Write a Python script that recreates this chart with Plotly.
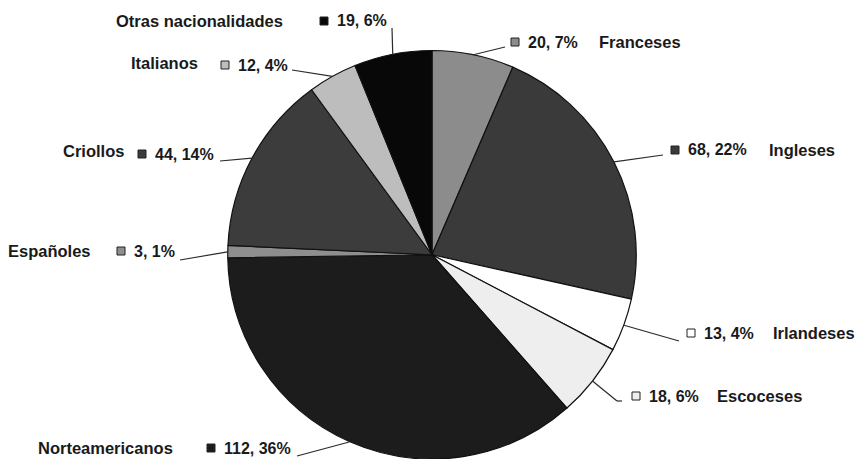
import math
import plotly.graph_objects as go

# ---- data ----
names = ["Franceses", "Ingleses", "Irlandeses", "Escoceses", "Norteamericanos",
         "Españoles", "Criollos", "Italianos", "Otras nacionalidades"]
values = [20, 68, 13, 18, 112, 3, 44, 12, 19]
percents = [7, 22, 4, 6, 36, 1, 14, 4, 6]
colors = ["#8c8c8c", "#3a3a3a", "#ffffff", "#eeeeee", "#1c1c1c",
          "#8e8e8e", "#3c3c3c", "#bdbdbd", "#080808"]

# ---- label layout (pixels) ----
W, H = 857, 459
CX, CY, R = 432, 255, 204.5
sq_x = [511, 671, 687, 632, 207, 117, 138, 221, 320]
lab_y = [42, 150, 333, 396, 448, 251, 154, 65, 21]
name_x = [597, 767, 771, 715, 175, 93, 126, 200, 285]
name_dy = [0, 0, 0, 0, 0, 0, -3, -2, 0]
name_side = ["l", "l", "l", "l", "r", "r", "r", "r", "r"]
leader_end = [(505, 47), (663, 155), (679, 341), (622, 401), (297, 456),
              (180, 260), (220, 161), (292, 70), (392, 28)]
leader_elbow = [None, None, None, (617, 401), None, None, None, None, None]

def px(x):
    return x / W

def py(y):
    return 1 - y / H

fig = go.Figure()
fig.add_trace(go.Pie(
    labels=names, values=values, sort=False, direction="clockwise", rotation=0,
    marker=dict(colors=colors, line=dict(color="#111111", width=1.2)),
    textinfo="none", hoverinfo="label+value+percent", showlegend=False,
    domain=dict(x=[(CX - R) / W, (CX + R) / W], y=[0, (H - CY + R) / H]),
))

vfont = dict(family="Liberation Sans, Arial, sans-serif", size=16, color="#1a1a1a")
nfont = dict(family="Liberation Sans, Arial, sans-serif", size=16.5, color="#1a1a1a")
total = sum(values)
shapes = []
annotations = []
cum = 0
for i, v in enumerate(values):
    mid = (cum + v / 2) / total * 2 * math.pi
    cum += v
    ex = CX + R * math.sin(mid)
    ey = CY - R * math.cos(mid)
    lx, ly = leader_end[i]
    if leader_elbow[i] is not None:
        bx, by = leader_elbow[i]
        shapes.append(dict(type="line", xref="paper", yref="paper",
                           x0=px(ex), y0=py(ey), x1=px(bx), y1=py(by),
                           line=dict(color="#2a2a2a", width=1.2)))
        ex, ey = bx, by
    shapes.append(dict(type="line", xref="paper", yref="paper",
                       x0=px(ex), y0=py(ey), x1=px(lx), y1=py(ly),
                       line=dict(color="#2a2a2a", width=1.2)))
    # legend square
    s = 8
    shapes.append(dict(type="rect", xref="paper", yref="paper",
                       x0=px(sq_x[i]), x1=px(sq_x[i] + s),
                       y0=py(lab_y[i] - s / 2), y1=py(lab_y[i] + s / 2),
                       fillcolor=colors[i], line=dict(color="#222222", width=1)))
    annotations.append(dict(xref="paper", yref="paper", x=px(sq_x[i] + 15), y=py(lab_y[i]),
                            xanchor="left", yanchor="middle", showarrow=False,
                            text=f"<b>{v}, {percents[i]}%</b>", font=vfont))
    annotations.append(dict(xref="paper", yref="paper", x=px(name_x[i]),
                            y=py(lab_y[i] + name_dy[i]),
                            xanchor="left" if name_side[i] == "l" else "right",
                            yanchor="middle", showarrow=False,
                            text=f"<b>{names[i]}</b>", font=nfont))

fig.update_layout(
    width=W, height=H, margin=dict(l=0, r=0, t=0, b=0),
    paper_bgcolor="white", plot_bgcolor="white",
    shapes=shapes, annotations=annotations,
)
fig.write_html("out.html")
